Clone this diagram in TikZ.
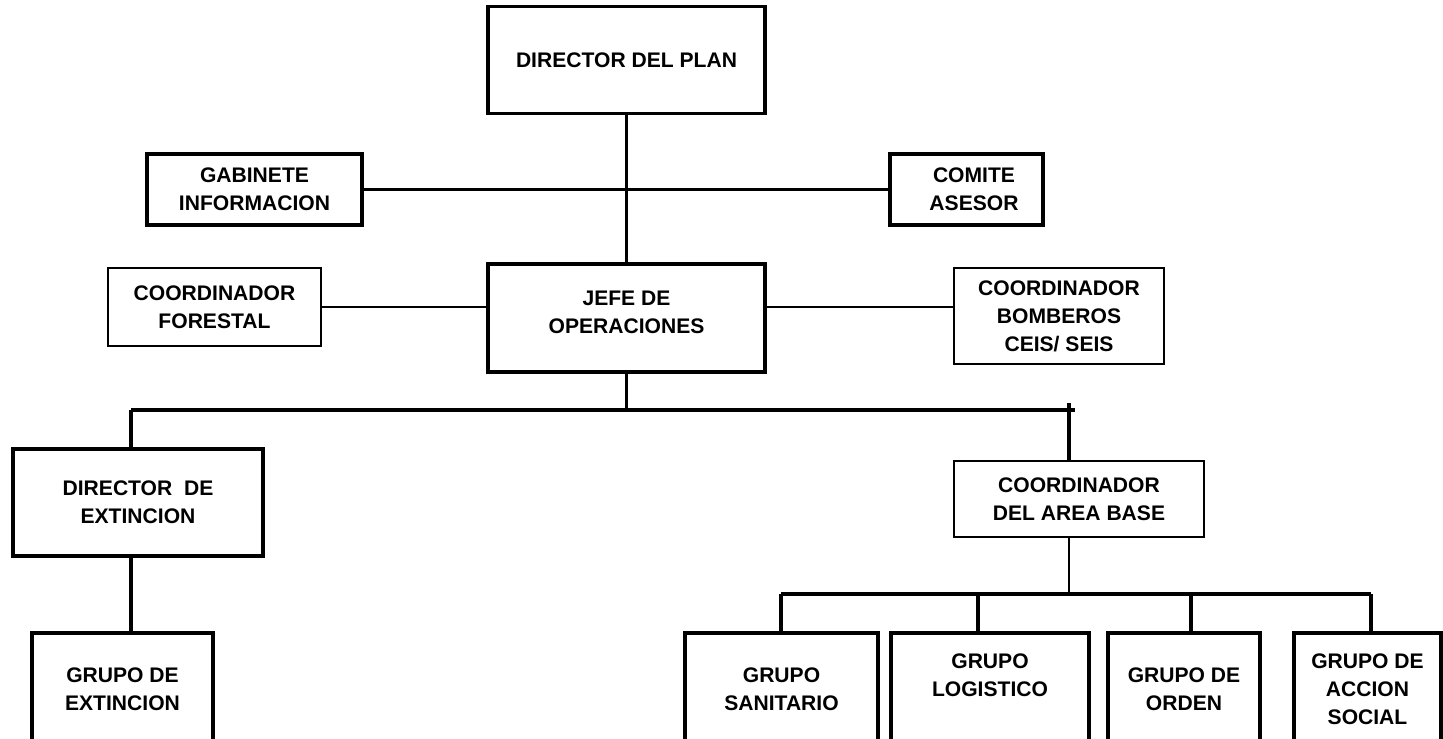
\documentclass[tikz,border=0pt]{standalone}
\usepackage{fontspec}
\setmainfont{Liberation Sans}
\usetikzlibrary{positioning}

\begin{document}
\begin{tikzpicture}[x=0.02cm, y=-0.02cm,
    box/.style={draw=black, line width=1.9pt, align=center, inner sep=0pt,
      font=\bfseries\fontsize{12}{16}\selectfont},
    thinbox/.style={box, line width=1.3pt},
    link/.style={draw=black, line width=1.9pt},
    thinlink/.style={draw=black, line width=1.3pt}]
    \clip (0,0) rectangle (1443,739);
    \node[box, minimum width=5.54cm, minimum height=2.14cm] (NPlan) at (626.5,60) {DIRECTOR DEL PLAN};
    \node[box, minimum width=4.30cm, minimum height=1.42cm] (NGab) at (254.5,189.5) {GABINETE\\INFORMACION};
    \node[box, minimum width=3.06cm, minimum height=1.42cm] (NCom) at (966.5,189.5) {\hspace*{0.3cm}COMITE\\\hspace*{0.3cm}ASESOR};
    \node[thinbox, minimum width=4.26cm, minimum height=1.56cm] (NFor) at (214.5,307) {COORDINADOR\\FORESTAL};
    \node[box, minimum width=5.54cm, minimum height=2.16cm] (NJefe) at (626.5,318) {JEFE DE\\OPERACIONES\\[-0.35cm]\mbox{}};
    \node[thinbox, minimum width=4.20cm, minimum height=1.92cm] (NBomb) at (1059,316) {COORDINADOR\\BOMBEROS\\CEIS/ SEIS};
    \draw [link] (NPlan) -- (NJefe);
    \draw [link] (NGab) -- (NCom);
    \draw [thinlink] (NFor.east) -- (NFor.east -| NJefe.west);
    \draw [thinlink] (NJefe.east |- NFor.east) -- (NBomb.west |- NFor.east);
    % second level
    \coordinate (BusL) at (131,410);
    \coordinate (BusR) at (1075,410);
    \coordinate (Tick) at (1069,403);
    \node[box, minimum width=5.00cm, minimum height=2.14cm] (NDirExt) at (138,502.5) {DIRECTOR~~DE\\EXTINCION};
    \node[box, minimum width=3.62cm, minimum height=2.24cm] (NGrExt) at (122.5,689) {GRUPO DE\\EXTINCION};
    \node[thinbox, minimum width=5.00cm, minimum height=1.52cm] (NArea) at (1079,499) {COORDINADOR\\DEL AREA BASE};
    \draw [link] (NJefe.south) -- (NJefe.south |- BusL);
    \draw [link] (BusL) -- (BusR);
    \draw [link] (BusL) -- (BusL |- NDirExt.north);
    \draw [link] (BusL |- NDirExt.south) -- (BusL |- NGrExt.north);
    \draw [link] (Tick) -- (Tick |- NArea.north);
    % groups of the base area
    \coordinate (BusB) at (781,594);
    \coordinate (BusE) at (1371,594);
    \node[box, minimum width=3.86cm, minimum height=2.24cm] (NSan) at (781.5,689) {GRUPO\\SANITARIO};
    \node[box, minimum width=3.96cm, minimum height=2.24cm] (NLog) at (990,689) {GRUPO\\LOGISTICO\\\mbox{}};
    \node[box, minimum width=3.04cm, minimum height=2.24cm] (NOrd) at (1184,689) {GRUPO DE\\ORDEN};
    \node[box, minimum width=2.94cm, minimum height=2.24cm] (NAcc) at (1367.5,689) {GRUPO DE\\ACCION\\SOCIAL};
    \draw [thinlink] (Tick |- NArea.south) -- (Tick |- BusB);
    \draw [link] (BusB) -- (BusE);
    \draw [link] (BusB) -- (BusB |- NSan.north);
    \draw [link] (978,594) -- (978,0 |- NLog.north);
    \draw [link] (1191,594) -- (1191,0 |- NOrd.north);
    \draw [link] (BusE) -- (BusE |- NAcc.north);
\end{tikzpicture}
\end{document}
